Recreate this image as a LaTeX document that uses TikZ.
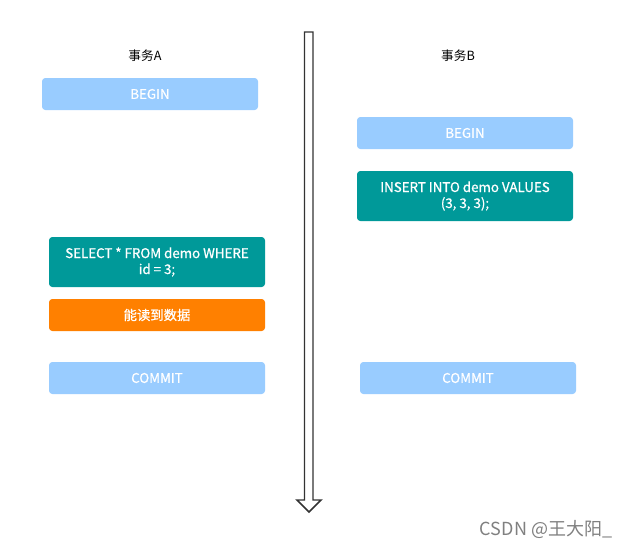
\documentclass[tikz,border=0pt]{standalone}
\usepackage{fontspec}
\setmainfont{Noto Sans CJK SC}
\newfontfamily\boxfont{Noto Sans CJK SC}[BoldFont={Noto Sans CJK SC},BoldFeatures={FakeBold=0.8}]
\usetikzlibrary{positioning}

\begin{document}
\begin{tikzpicture}[x=0.75pt,y=-0.75pt,
	box/.style={rounded corners=2.5pt,minimum width=162pt,minimum height=24pt,
		inner sep=1pt,align=center,text=white,font=\boxfont\bfseries\fontsize{10}{12}\selectfont},
	tallbox/.style={box,minimum height=37.5pt},
	title/.style={font=\fontsize{9.5}{11}\selectfont}]

\definecolor{lightblue}{HTML}{99CCFF}
\definecolor{teal}{HTML}{009999}
\definecolor{orange}{HTML}{FF8000}

\useasboundingbox[fill=white] (0,0) rectangle (633,550);

% time axis
\draw[line width=1.1pt,color=black!80,line join=miter]
	(304.5,32)--(313,32)--(313,500)--(321,500)--(309,512)--(297,500)--(304.5,500)--cycle;

% transaction A
\node[title] (titleA) at (145,56) {事务A};
\node[box,fill=lightblue] (beginA) at (150,94) {BEGIN};
\node[tallbox,fill=teal] (selectA) at (157,262) {SELECT * FROM demo WHERE\\id = 3;};
\node[box,fill=orange] (readA) at (157,315) {能读到数据};
\node[box,fill=lightblue] (commitA) at (157,378) {COMMIT};

% transaction B
\node[title] (titleB) at (458,56) {事务B};
\node[box,fill=lightblue] (beginB) at (465,133) {BEGIN};
\node[tallbox,fill=teal] (insertB) at (465,196) {INSERT INTO demo VALUES\\(3, 3, 3);};
\node[box,fill=lightblue] (commitB) at (468,378) {COMMIT};

\node[color=black!50,font=\fontsize{13.5}{15}\selectfont] (mark) at (546,530) {CSDN @王大阳\_};

\end{tikzpicture}
\end{document}
